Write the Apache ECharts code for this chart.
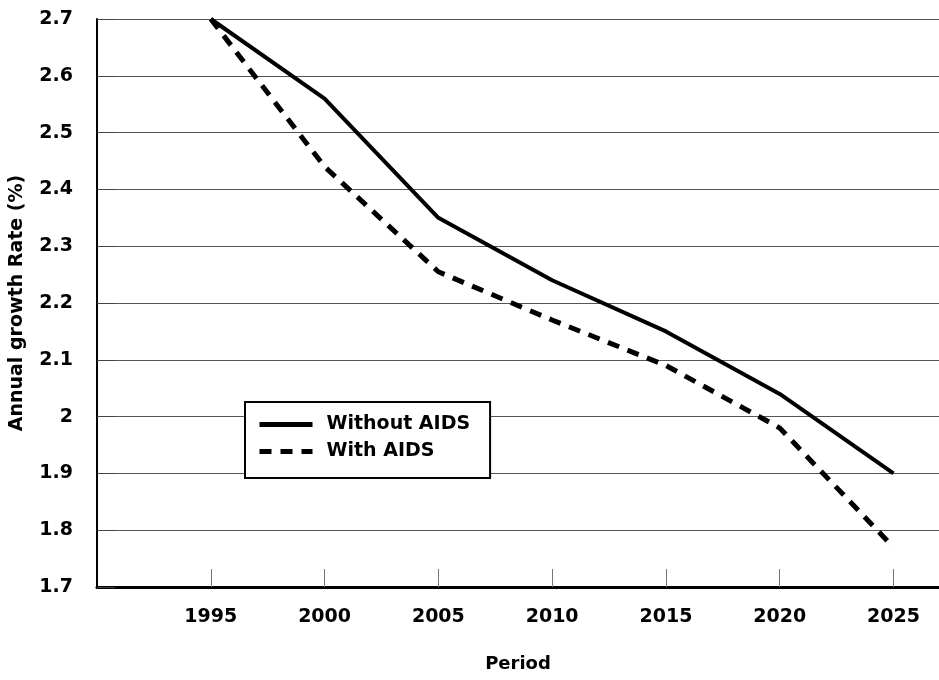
<!DOCTYPE html>
<html>
<head>
<meta charset="utf-8">
<script src="https://cdn.jsdelivr.net/npm/echarts@6/dist/echarts.min.js"></script>
<style>
html,body{margin:0;padding:0;background:#fff;}
#chart{width:939px;height:680px;}
</style>
</head>
<body>
<div id="chart"></div>
<script>
const years = [1995, 2000, 2005, 2010, 2015, 2020, 2025];
const withoutAids = [2.70, 2.56, 2.35, 2.24, 2.15, 2.04, 1.90];
const withAids = [2.70, 2.44, 2.255, 2.17, 2.09, 1.98, 1.77];
const seriesNames = ['Without AIDS', 'With AIDS'];
const xAxisTitle = 'Period';
const yAxisTitle = 'Annual growth Rate (%)';

const FONT = '"DejaVu Sans", Verdana, sans-serif';
const chart = echarts.init(document.getElementById('chart'));
chart.setOption({
  animation: false,
  backgroundColor: '#fff',
  grid: { left: 97, right: 0, top: 19, bottom: 93, containLabel: false, outerBoundsMode: 'none' },
  legend: {
    show: true,
    orient: 'vertical',
    left: 245, top: 402,
    backgroundColor: '#fff',
    borderColor: '#000',
    borderWidth: 2,
    padding: [13, 20, 17, 12],
    itemWidth: 53,
    itemHeight: 14,
    itemGap: 8,
    itemStyle: { opacity: 0 },
    lineStyle: { width: 5, color: '#000' },
    textStyle: { fontFamily: FONT, fontWeight: 'bold', fontSize: 19, color: '#000', padding: [0,0,0,9] },
    data: seriesNames
  },
  xAxis: {
    type: 'value',
    min: 1990, max: 2027,
    interval: 5,
    name: xAxisTitle,
    nameLocation: 'middle',
    nameGap: 68,
    nameTextStyle: { fontFamily: FONT, fontWeight: 'bold', fontSize: 18, color: '#000' },
    axisLine: { show: true, lineStyle: { color: '#000', width: 3 } },
    axisTick: { show: true, inside: true, length: 18, lineStyle: { color: '#777', width: 1 } },
    axisLabel: { showMinLabel: false, showMaxLabel: false, margin: 21, fontFamily: FONT, fontWeight: 'bold', fontSize: 19, color: '#000',
      formatter: v => (v === 1990 || v > 2025) ? '' : String(v) },
    splitLine: { show: false }
  },
  yAxis: {
    type: 'value',
    min: 1.7, max: 2.7, interval: 0.1,
    name: yAxisTitle,
    nameLocation: 'middle',
    nameGap: 70,
    nameTextStyle: { fontFamily: FONT, fontWeight: 'bold', fontSize: 19, color: '#000' },
    axisLine: { show: true, lineStyle: { color: '#000', width: 2 } },
    axisTick: { show: true, inside: true, length: 18, lineStyle: { color: '#444', width: 1 } },
    axisLabel: { margin: 24, fontFamily: FONT, fontWeight: 'bold', fontSize: 19, color: '#000',
      formatter: v => { const r = Math.round(v * 10) / 10; return String(r); } },
    splitLine: { show: true, lineStyle: { color: '#555', width: 1 } }
  },
  series: [
    { name: seriesNames[0], type: 'line', symbol: 'none',
      data: years.map((y, i) => [y, withoutAids[i]]),
      lineStyle: { color: '#000', width: 4, type: 'solid' }, itemStyle: { color: '#000' } },
    { name: seriesNames[1], type: 'line', symbol: 'none',
      data: years.map((y, i) => [y, withAids[i]]),
      lineStyle: { color: '#000', width: 5, type: [12, 9] }, itemStyle: { color: '#000' } }
  ]
});
</script>
</body>
</html>
